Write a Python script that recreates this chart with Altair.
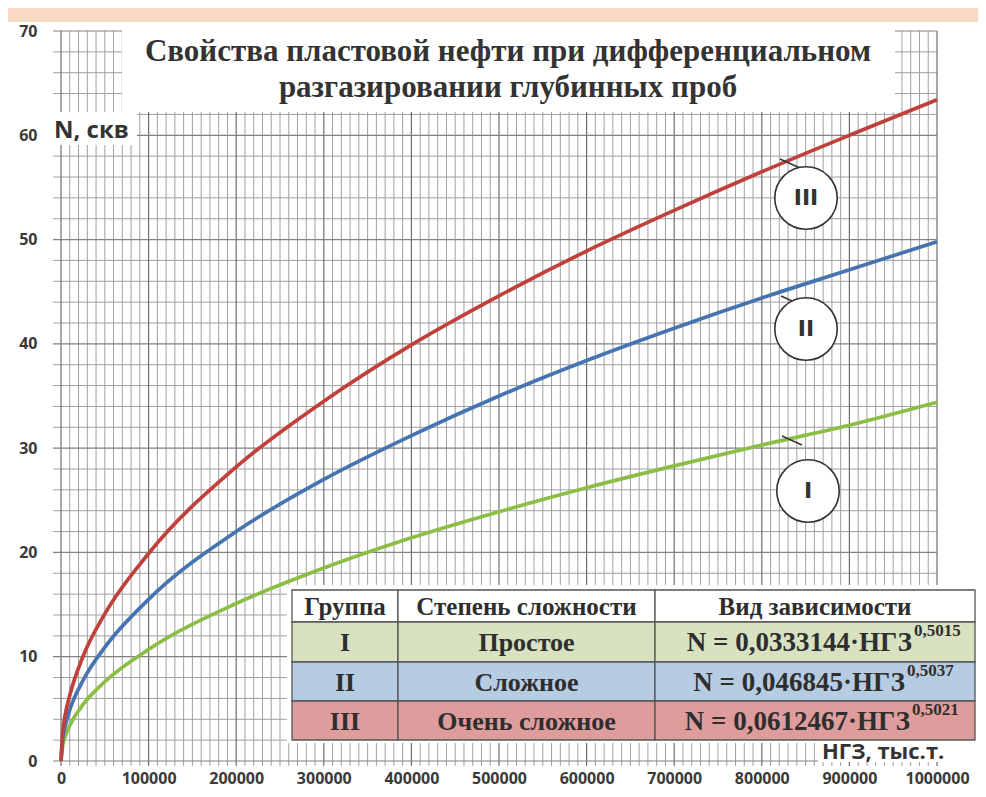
import altair as alt
import pandas as pd

# ---------------- data ----------------
ngz = [0, 2000, 5000, 10000, 25000, 50000, 100000, 200000, 300000, 400000,
       500000, 600000, 700000, 800000, 900000, 1000000]
n_I = [0, 1.5, 2.4, 3.4, 5.4, 7.6, 10.7, 15.1, 18.5, 21.4, 23.9, 26.2, 28.3, 30.3, 32.2, 34.4]
n_II = [0, 2.2, 3.4, 4.9, 7.7, 10.9, 15.5, 22.0, 27.0, 31.2, 35.0, 38.4, 41.5, 44.4, 47.1, 49.8]
n_III = [0, 2.8, 4.5, 6.3, 10.0, 14.1, 19.9, 28.2, 34.5, 39.9, 44.6, 48.9, 52.8, 56.5, 60.0, 63.4]

groups = ["I", "II", "III"]
complexity = ["Простое", "Сложное", "Очень сложное"]
formula_main = ["N = 0,0333144·НГЗ", "N = 0,046845·НГЗ", "N = 0,0612467·НГЗ"]
formula_exp = ["0,5015", "0,5037", "0,5021"]
header = ["Группа", "Степень сложности", "Вид зависимости"]
title_lines = ["Свойства пластовой нефти при дифференциальном",
               "разгазировании глубинных проб"]
y_ticks = [0, 10, 20, 30, 40, 50, 60, 70]
x_ticks = [0, 100000, 200000, 300000, 400000, 500000, 600000, 700000, 800000, 900000, 1000000]

colors = {"I": "#8CBE46", "II": "#4674B0", "III": "#C0413C"}
row_fill = ["#D8E2C0", "#B6CCE2", "#DE9C9C"]

W, H = 876, 730
XD = [0, 1000000]
YD = [0, 70]
xs = alt.Scale(domain=XD, nice=False, zero=False)
ys = alt.Scale(domain=YD, nice=False, zero=False)

# ---------------- background paper ----------------
paper = alt.Chart(pd.DataFrame({"a": [0]})).mark_rect(fill="white").encode(
    x=alt.value(-53), x2=alt.value(918), y=alt.value(-9), y2=alt.value(770))

# ---------------- grid ----------------
minor_x = [v for v in range(0, 1000001, 10000) if v % 100000 != 0]
major_x = x_ticks
minor_y = [v for v in range(0, 71, 2) if v % 10 != 0]
major_y = y_ticks

gvx_min = alt.Chart(pd.DataFrame({"gx": minor_x})).mark_rule(color="#A0A0A0", strokeWidth=1).encode(
    x=alt.X("gx:Q", scale=xs, axis=None), y=alt.value(0), y2=alt.value(H + 5))
gvx_maj = alt.Chart(pd.DataFrame({"gx": major_x})).mark_rule(color="#6E6E6E", strokeWidth=1.2).encode(
    x=alt.X("gx:Q", scale=xs, axis=None), y=alt.value(0), y2=alt.value(H + 5))
ghy_min = alt.Chart(pd.DataFrame({"gy": minor_y})).mark_rule(color="#A0A0A0", strokeWidth=1).encode(
    y=alt.Y("gy:Q", scale=ys, axis=None), x=alt.value(-8), x2=alt.value(W))
ghy_maj = alt.Chart(pd.DataFrame({"gy": major_y})).mark_rule(color="#808080", strokeWidth=1.2).encode(
    y=alt.Y("gy:Q", scale=ys, axis=None), x=alt.value(-8), x2=alt.value(W))

# ---------------- white covers (title, axis captions) ----------------
covers = pd.DataFrame({
    "x1": [61, -11, 757], "x2": [834, 76, 919],
    "y1": [-9, 81, 708], "y2": [81, 114, 731]})
cover = alt.Chart(covers).mark_rect(fill="white").encode(
    x=alt.X("x1:Q", scale=None, axis=None), x2="x2:Q",
    y=alt.Y("y1:Q", scale=None, axis=None), y2="y2:Q")

# ---------------- curves ----------------
rows = []
for g, vals in zip(groups, [n_I, n_II, n_III]):
    for xv, yv in zip(ngz, vals):
        rows.append({"ngz": xv, "n": yv, "g": g})
curves_df = pd.DataFrame(rows)
curves = alt.Chart(curves_df).mark_line(strokeWidth=3.7, interpolate="monotone").encode(
    x=alt.X("ngz:Q", scale=xs,
            axis=alt.Axis(values=x_ticks, format="d", title=None, domain=False, ticks=False, grid=False,
                          labelFont="Open Sans", labelFontWeight="bold", labelFontSize=16,
                          labelColor="#3A3A3A", labelPadding=9, labelFlush=False, zindex=1)),
    y=alt.Y("n:Q", scale=ys,
            axis=alt.Axis(values=y_ticks, title=None, domain=False, ticks=False, grid=False,
                          labelFont="Open Sans", labelFontWeight="bold", labelFontSize=16,
                          labelColor="#3A3A3A", labelPadding=24, zindex=1)),
    color=alt.Color("g:N", scale=alt.Scale(domain=groups, range=[colors[g] for g in groups]), legend=None),
    detail="g:N")

# ---------------- callouts ----------------
leaders = pd.DataFrame({"x1": [721, 720, 719], "y1": [405, 265, 128],
                        "x2": [741, 740, 739], "y2": [414, 274, 137]})
leader = alt.Chart(leaders).mark_rule(color="#333333", strokeWidth=1.4).encode(
    x=alt.X("x1:Q", scale=None, axis=None), x2="x2:Q",
    y=alt.Y("y1:Q", scale=None, axis=None), y2="y2:Q")
circ_df = pd.DataFrame({"cx": [747, 745, 745], "cy": [460, 298, 167], "lab": groups})
circles = alt.Chart(circ_df).mark_point(shape="circle", size=3900, filled=True, fill="white",
                                         stroke="#333333", strokeWidth=1.6, opacity=1).encode(
    x=alt.X("cx:Q", scale=None, axis=None), y=alt.Y("cy:Q", scale=None, axis=None))
circ_txt = alt.Chart(circ_df).mark_text(font="DejaVu Sans", fontWeight="bold", fontSize=22,
                                         color="#333333", baseline="middle").encode(
    x=alt.X("cx:Q", scale=None, axis=None), y=alt.Y("cy:Q", scale=None, axis=None), text="lab:N")

# ---------------- table ----------------
col_edges = [231, 337, 594, 914]
row_edges = [559, 591, 631, 670, 709]
cells = []
for r in range(4):
    fill = "white" if r == 0 else row_fill[r - 1]
    for c in range(3):
        cells.append({"x1": col_edges[c], "x2": col_edges[c + 1],
                      "y1": row_edges[r], "y2": row_edges[r + 1], "fill": fill})
cells_df = pd.DataFrame(cells)
tbl_frame = alt.Chart(pd.DataFrame({"a": [0]})).mark_rect(fill="white").encode(
    x=alt.value(226), x2=alt.value(919), y=alt.value(554), y2=alt.value(712))
tbl_cells = alt.Chart(cells_df).mark_rect(stroke="#555555", strokeWidth=1.3).encode(
    x=alt.X("x1:Q", scale=None, axis=None), x2="x2:Q",
    y=alt.Y("y1:Q", scale=None, axis=None), y2="y2:Q",
    fill=alt.Fill("fill:N", scale=None))

cx = [(col_edges[i] + col_edges[i + 1]) / 2 for i in range(3)]
cy = [(row_edges[i] + row_edges[i + 1]) / 2 for i in range(4)]
ttxt = []
for c in range(3):
    ttxt.append({"tx": cx[c], "ty": cy[0] + 1, "t": header[c], "s": 25})
for r in range(3):
    ttxt.append({"tx": cx[0], "ty": cy[r + 1] + 1, "t": groups[r], "s": 26})
    ttxt.append({"tx": cx[1], "ty": cy[r + 1] + 1, "t": complexity[r], "s": 26})
tbl_txt = alt.Chart(pd.DataFrame(ttxt)).mark_text(font="Liberation Serif", fontWeight="bold",
                                                   color="#2E2E2E", baseline="middle").encode(
    x=alt.X("tx:Q", scale=None, axis=None), y=alt.Y("ty:Q", scale=None, axis=None),
    text="t:N", size=alt.Size("s:Q", scale=None))

fr = [851, 844, 849]
fdf = pd.DataFrame({"fx": fr, "fy": [v + 1 for v in cy[1:]], "t": formula_main,
                    "ex": [v + 2 for v in fr], "ey": [v - 11 for v in cy[1:]], "e": formula_exp})
f_main = alt.Chart(fdf).mark_text(font="Liberation Serif", fontWeight="bold", fontSize=27,
                                  color="#2E2E2E", baseline="middle", align="right").encode(
    x=alt.X("fx:Q", scale=None, axis=None), y=alt.Y("fy:Q", scale=None, axis=None), text="t:N")
f_exp = alt.Chart(fdf).mark_text(font="Liberation Serif", fontWeight="bold", fontSize=17,
                                 color="#2E2E2E", baseline="middle", align="left").encode(
    x=alt.X("ex:Q", scale=None, axis=None), y=alt.Y("ey:Q", scale=None, axis=None), text="e:N")

# ---------------- titles ----------------
tdf = pd.DataFrame({"tx": [447, 447], "ty": [21, 57], "t": title_lines})
title = alt.Chart(tdf).mark_text(font="Liberation Serif", fontWeight="bold", fontSize=31,
                                 color="#333333", baseline="middle").encode(
    x=alt.X("tx:Q", scale=None, axis=None), y=alt.Y("ty:Q", scale=None, axis=None), text="t:N")
ylab = alt.Chart(pd.DataFrame({"tx": [-7], "ty": [100], "t": ["N, скв"]})).mark_text(
    font="Open Sans", fontWeight="bold", fontSize=24, color="#333333", baseline="middle", align="left").encode(
    x=alt.X("tx:Q", scale=None, axis=None), y=alt.Y("ty:Q", scale=None, axis=None), text="t:N")
xlab = alt.Chart(pd.DataFrame({"tx": [761], "ty": [721], "t": ["НГЗ, тыс.т."]})).mark_text(
    font="Open Sans", fontWeight="bold", fontSize=22, color="#333333", baseline="middle", align="left").encode(
    x=alt.X("tx:Q", scale=None, axis=None), y=alt.Y("ty:Q", scale=None, axis=None), text="t:N")

chart = alt.layer(
    paper, gvx_min, ghy_min, gvx_maj, ghy_maj, cover, curves,
    leader, circles, circ_txt, tbl_frame, tbl_cells, tbl_txt, f_main, f_exp,
    title, ylab, xlab
).resolve_scale(x="independent", y="independent").properties(
    width=W, height=H,
    autosize=alt.AutoSizeParams(type="none"),
    padding={"left": 53, "top": 23, "right": 41, "bottom": 28},
    background="#F9D9C3"
).configure_view(stroke=None)

chart.save("out.html", embed_options={"renderer": "svg", "actions": False})
